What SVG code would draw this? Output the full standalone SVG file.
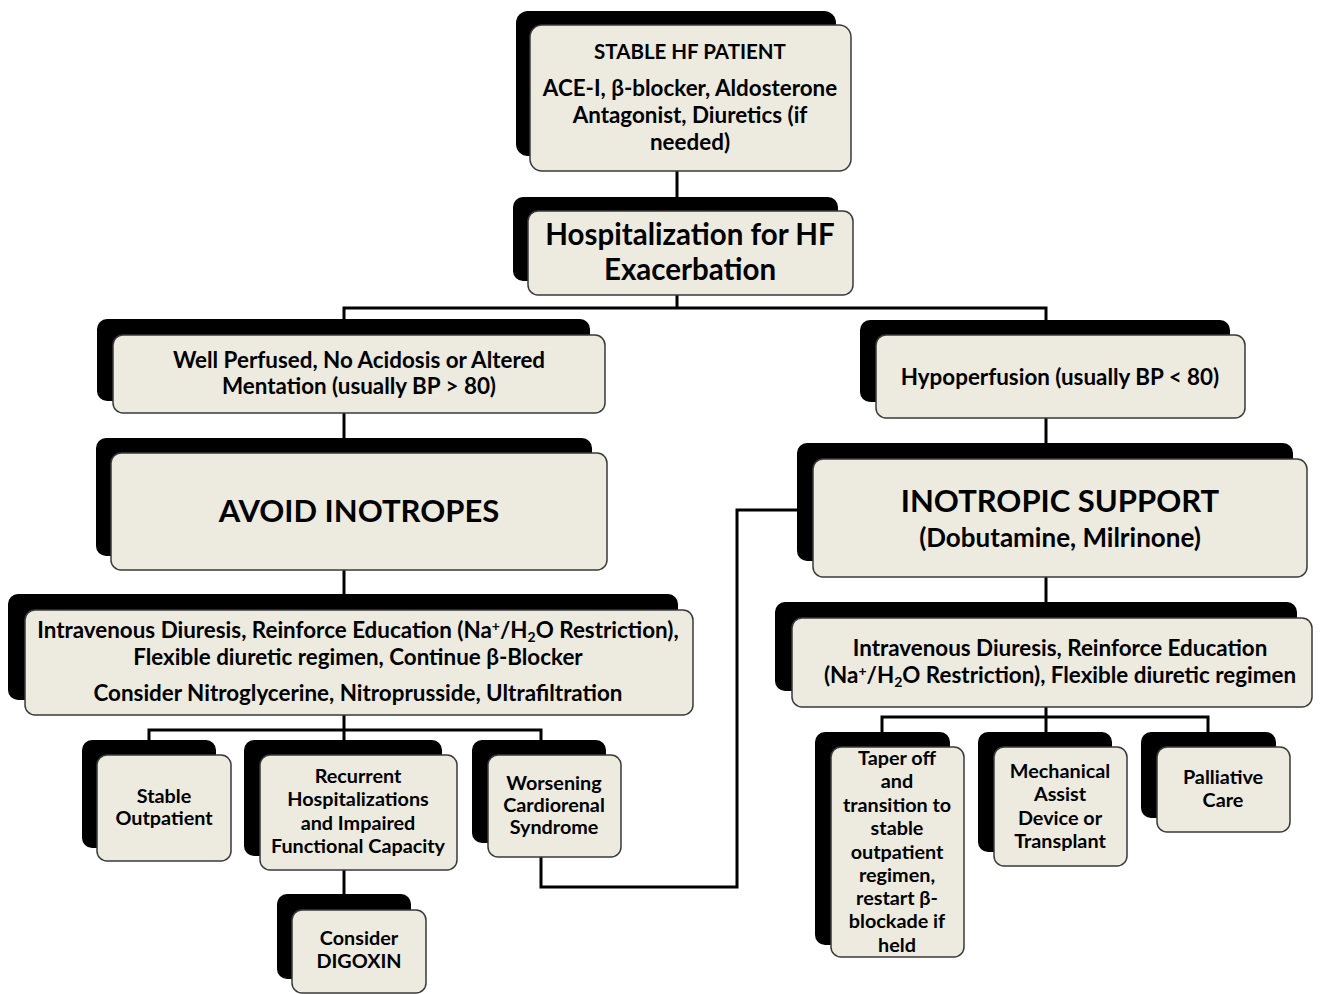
<svg xmlns="http://www.w3.org/2000/svg" width="1335" height="994" viewBox="0 0 1335 994">
<style>
.sh{fill:#000;}
.bx{fill:#EDEAE0;stroke:#3a3a3a;stroke-width:1.5;}
text{font-family:Lato,"Open Sans","Liberation Sans",sans-serif;font-weight:bold;fill:#000;text-anchor:middle;}
.t21{font-size:22.4px;}
.tc{font-size:20.5px;}
.t19{font-size:19.8px;}
.t29{font-size:29.5px;}
.t31{font-size:31px;}
.t23{font-size:26px;}
.sp{font-size:14px;}
.cn{fill:none;stroke:#000;stroke-width:3;}
</style>
<rect width="1335" height="994" fill="#fff"/>
<g id="connectors">
<path class="cn" d="M677,171V197"/>
<path class="cn" d="M677,295V308M344,319V308H1046V320"/>
<path class="cn" d="M344,413V438"/>
<path class="cn" d="M1046,418V443"/>
<path class="cn" d="M344,570V594"/>
<path class="cn" d="M1046,577V602"/>
<path class="cn" d="M344,715V730M149,740V730H541V740M344,730V740"/>
<path class="cn" d="M1046,707V717M882,732V717H1208V732M1046,717V732"/>
<path class="cn" d="M344,870V894"/>
<path class="cn" d="M541,857V887H737V510H797"/>
</g>
<g id="n1">
<rect class="sh" x="516" y="11" width="320" height="145" rx="12"/>
<rect class="bx" x="530" y="25" width="321" height="146" rx="12"/>
<text class="tc" x="690" y="59">STABLE HF PATIENT</text>
<text class="t21" x="690" y="96">ACE-I, β-blocker, Aldosterone</text>
<text class="t21" x="690" y="123">Antagonist, Diuretics (if</text>
<text class="t21" x="690" y="150">needed)</text>
</g>
<g id="n2">
<rect class="sh" x="513" y="197" width="325" height="84" rx="10"/>
<rect class="bx" x="528" y="211" width="325" height="84" rx="10"/>
<text class="t29" x="690" y="245">Hospitalization for HF</text>
<text class="t29" x="690" y="280">Exacerbation</text>
</g>
<g id="n3">
<rect class="sh" x="97" y="319" width="493" height="82" rx="10"/>
<rect class="bx" x="113" y="335" width="492" height="78" rx="10"/>
<text class="t21" x="359" y="368">Well Perfused, No Acidosis or Altered</text>
<text class="t21" x="359" y="394">Mentation (usually BP &gt; 80)</text>
</g>
<g id="n4">
<rect class="sh" x="860" y="320" width="370" height="82" rx="10"/>
<rect class="bx" x="876" y="335" width="369" height="83" rx="10"/>
<text class="t21" x="1060" y="385">Hypoperfusion (usually BP &lt; 80)</text>
</g>
<g id="n5">
<rect class="sh" x="96" y="438" width="496" height="118" rx="10"/>
<rect class="bx" x="111" y="453" width="496" height="117" rx="10"/>
<text class="t31" x="359" y="522">AVOID INOTROPES</text>
</g>
<g id="n6">
<rect class="sh" x="797" y="443" width="496" height="118" rx="10"/>
<rect class="bx" x="813" y="459" width="494" height="118" rx="10"/>
<text class="t31" x="1060" y="512">INOTROPIC SUPPORT</text>
<text class="t23" x="1060" y="547">(Dobutamine, Milrinone)</text>
</g>
<g id="n7">
<rect class="sh" x="8" y="594" width="670" height="106" rx="10"/>
<rect class="bx" x="25" y="610" width="668" height="105" rx="10"/>
<text class="t21" x="358" y="638">Intravenous Diuresis, Reinforce Education (Na<tspan class="sp" dy="-7">+</tspan><tspan dy="7">/H</tspan><tspan class="sp" dy="4">2</tspan><tspan dy="-4">O Restriction),</tspan></text>
<text class="t21" x="358" y="665">Flexible diuretic regimen, Continue β-Blocker</text>
<text class="t21" x="358" y="701">Consider Nitroglycerine, Nitroprusside, Ultrafiltration</text>
</g>
<g id="n8">
<rect class="sh" x="775" y="602" width="522" height="89" rx="10"/>
<rect class="bx" x="792" y="618" width="520" height="89" rx="10"/>
<text class="t21" x="1060" y="656">Intravenous Diuresis, Reinforce Education</text>
<text class="t21" x="1060" y="683">(Na<tspan class="sp" dy="-7">+</tspan><tspan dy="7">/H</tspan><tspan class="sp" dy="4">2</tspan><tspan dy="-4">O Restriction), Flexible diuretic regimen</tspan></text>
</g>
<g id="n9">
<rect class="sh" x="82" y="740" width="134" height="108" rx="10"/>
<rect class="bx" x="97" y="755" width="134" height="106" rx="10"/>
<text class="t19" x="164" y="803">Stable</text>
<text class="t19" x="164" y="825">Outpatient</text>
</g>
<g id="n10">
<rect class="sh" x="244" y="740" width="198" height="116" rx="10"/>
<rect class="bx" x="260" y="755" width="197" height="115" rx="10"/>
<text class="t19" x="358" y="783">Recurrent</text>
<text class="t19" x="358" y="806">Hospitalizations</text>
<text class="t19" x="358" y="830">and Impaired</text>
<text class="t19" x="358" y="853">Functional Capacity</text>
</g>
<g id="n11">
<rect class="sh" x="472" y="740" width="134" height="103" rx="10"/>
<rect class="bx" x="488" y="755" width="133" height="102" rx="10"/>
<text class="t19" x="554" y="790">Worsening</text>
<text class="t19" x="554" y="812">Cardiorenal</text>
<text class="t19" x="554" y="834">Syndrome</text>
</g>
<g id="n12">
<rect class="sh" x="277" y="894" width="134" height="85" rx="10"/>
<rect class="bx" x="292" y="910" width="134" height="83" rx="10"/>
<text class="t19" x="359" y="945">Consider</text>
<text class="t19" x="359" y="968">DIGOXIN</text>
</g>
<g id="n13">
<rect class="sh" x="815" y="732" width="135" height="213" rx="10"/>
<rect class="bx" x="831" y="747" width="133" height="210" rx="10"/>
<text class="t19" x="897" y="765">Taper off</text>
<text class="t19" x="897" y="788">and</text>
<text class="t19" x="897" y="812">transition to</text>
<text class="t19" x="897" y="835">stable</text>
<text class="t19" x="897" y="859">outpatient</text>
<text class="t19" x="897" y="882">regimen,</text>
<text class="t19" x="897" y="905">restart β-</text>
<text class="t19" x="897" y="928">blockade if</text>
<text class="t19" x="897" y="952">held</text>
</g>
<g id="n14">
<rect class="sh" x="978" y="732" width="134" height="120" rx="10"/>
<rect class="bx" x="994" y="747" width="133" height="119" rx="10"/>
<text class="t19" x="1060" y="778">Mechanical</text>
<text class="t19" x="1060" y="801">Assist</text>
<text class="t19" x="1060" y="825">Device or</text>
<text class="t19" x="1060" y="848">Transplant</text>
</g>
<g id="n15">
<rect class="sh" x="1141" y="732" width="135" height="86" rx="10"/>
<rect class="bx" x="1157" y="747" width="133" height="85" rx="10"/>
<text class="t19" x="1223" y="784">Palliative</text>
<text class="t19" x="1223" y="807">Care</text>
</g>
</svg>
